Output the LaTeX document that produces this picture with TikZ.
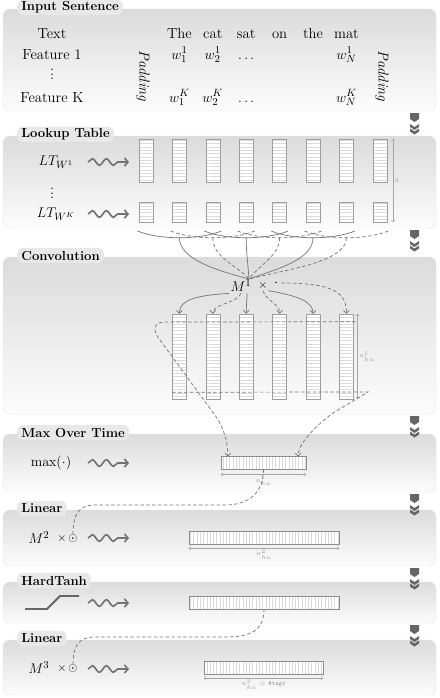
\documentclass[tikz,border=0pt]{standalone}
\usetikzlibrary{arrows.meta,decorations.pathmorphing,patterns.meta,calc}
\begin{document}
\begin{tikzpicture}[x=0.03cm, y=-0.03cm,
        font=\fontsize{12.5}{15}\selectfont, inner sep=1pt,
        >={Straight Barb[length=2.5pt,width=5pt]},
        panel/.style={draw=black!10, rounded corners=6pt,
            top color=black!14, bottom color=black!1},
        tab/.style={anchor=west, fill=black!9, rounded corners=5pt,
            font=\fontsize{11.2}{13}\selectfont\bfseries,
            inner xsep=3.5pt, inner ysep=0pt, minimum height=0.46cm},
        squig/.style={-{Straight Barb[length=3pt,width=7pt]}, black!55,
            line width=1.4pt, decorate,
            decoration={snake, amplitude=1mm, segment length=4.2mm,
                post length=1.6mm}},
        hcol/.style={draw=black!38, preaction={fill=white},
            pattern={Lines[angle=0,distance=2.8pt,line width=0.25pt]},
            pattern color=black!15, minimum width=0.42cm, inner sep=0pt},
        vbox/.style={draw=black!45, preaction={fill=white},
            pattern={Lines[angle=90,distance=2.8pt,line width=0.25pt]},
            pattern color=black!15, minimum height=0.38cm, inner sep=0pt},
        smallop/.style={inner sep=0.5pt, font=\fontsize{10}{12}\selectfont},
        wire/.style={black!55, semithick},
        dwire/.style={wire, densely dashed},
        dim/.style={<->, black!35, thin, >={Straight Barb[length=1.5pt,width=3pt]}},
        dimlab/.style={black!40, font=\fontsize{5.5}{6}\selectfont, inner sep=1pt}
    ]
    \useasboundingbox (0,0) rectangle (439,698);

    \foreach \ya/\yb/\ttl [count=\k] in {
        9/111/Input Sentence,
        136/228/Lookup Table,
        257/414/Convolution,
        434/492/Max Over Time,
        510/566/Linear,
        582/623/HardTanh,
        640/695/Linear
    } {
        \draw[panel] (3,\ya) rectangle (436,\yb);
        \node[tab] (tab\k) at (17,\ya-1.5) {\ttl};
    }

    \foreach \y in {111,228,414,492,566,623} {
        \fill[black!60] (410,\y+2) -- (419,\y+2) -- (419,\y+8)
            -- (414.5,\y+11) -- (410,\y+8) -- cycle;
        \fill[black!60] (410,\y+13) -- (414.5,\y+16) -- (419,\y+13)
            -- (419,\y+16) -- (414.5,\y+19) -- (410,\y+16) -- cycle;
        \fill[black!60] (410,\y+17.5) -- (414.5,\y+20.5) -- (419,\y+17.5)
            -- (419,\y+20.5) -- (414.5,\y+23.5) -- (410,\y+20.5) -- cycle;
    }

    \foreach \y in {162,214,463,538,603,669}
        \draw[squig] (88,\y) -- (129,\y);

    \node[anchor=base] (txt) at (52,38) {Text};
    \node[anchor=base] (feat1) at (52,59) {Feature 1};
    \node (fdots) at (52,71) {$\vdots$};
    \node[anchor=base] (featK) at (52,102) {Feature K};
    \node[rotate=-90] (padL) at (143,76) {\textit{Padding}};
    \node[rotate=-90] (padR) at (382,76) {\textit{Padding}};
    \foreach \w [count=\i from 2] in {The,cat,sat,on,the,mat}
        \node[anchor=base] (word\i) at ({146+33.4*(\i-1)},38) {\w};
    \foreach \i/\a/\b in {2/w_1^1/w_1^K, 3/w_2^1/w_2^K, 4/\dots/\dots, 7/w_N^1/w_N^K} {
        \node[anchor=base] (wa\i) at ({146+33.4*(\i-1)},59) {$\a$};
        \node[anchor=base] (wb\i) at ({146+33.4*(\i-1)},102) {$\b$};
    }

    \node (lt1) at (56,162) {$LT_{W^1}$};
    \node (ltdots) at (52,190) {$\vdots$};
    \node (ltK) at (56,214) {$LT_{W^K}$};
    \foreach \i in {1,...,8} {
        \node[hcol, minimum height=1.29cm] (top\i) at ({146+33.4*(\i-1)},160.5) {};
        \node[hcol, minimum height=0.6cm] (bot\i) at ({146+33.4*(\i-1)},212) {};
    }
    \draw[dim] ($(top8.north east)+(6,0)$) -- node[right, dimlab] (dlab) {d}
        ($(bot8.south east)+(6,0)$);

    \foreach \i in {2,...,7}
        \coordinate (arc\i) at ({146+33.4*(\i-1)},237.75);
    \foreach \i in {2,4,6}
        \draw[wire] ({146+33.4*(\i-1)-42},231) .. controls +(22,9) and +(-22,9)
            .. ({146+33.4*(\i-1)+42},231);
    \foreach \i in {3,5,7}
        \draw[dwire] ({146+33.4*(\i-1)-42},231) .. controls +(22,9) and +(-22,9)
            .. ({146+33.4*(\i-1)+42},231);

    \node (m1) at (241,286) {$M^1$};
    \node[smallop] (tm1) at (263,286) {$\times$};
    \node (dt1) at (276,283) {$\cdot$};
    \coordinate (hub) at (249,279);
    \draw[wire] (arc2) .. controls +(0,22) and +(-30,-8) .. (hub);
    \draw[dwire] (arc3) .. controls +(0,20) and +(-12,-14) .. (hub);
    \draw[wire] (arc4) .. controls +(0,15) and +(-1,-15) .. (hub);
    \draw[dwire] (arc5) .. controls +(0,18) and +(10,-14) .. (hub);
    \draw[wire] (arc6) .. controls +(0,22) and +(28,-10) .. (hub);
    \draw[dwire] (arc7) .. controls +(0,24) and +(40,-10) .. (hub);

    \foreach \i in {2,...,7}
        \node[hcol, minimum height=2.55cm] (c\i) at ({146+33.4*(\i-1)},356.5) {};
    \draw[wire, ->] (m1.south west) .. controls +(-30,2) and +(0,-15) .. (c2.north);
    \draw[dwire, ->] (m1.south) .. controls +(-4,10) and +(0,-10) .. (c3.north);
    \draw[wire, ->] ($(m1.south)+(6,0)$) .. controls +(0,8) and +(0,-8) .. (c4.north);
    \draw[dwire, ->] (tm1.south) .. controls +(3,10) and +(0,-10) .. (c5.north);
    \draw[wire, ->] (tm1.south east) .. controls +(30,5) and +(0,-12) .. (c6.north);
    \draw[dwire, ->] ($(dt1.east)+(2,0)$) .. controls +(55,0) and +(0,-20) .. (c7.north);
    \draw[dim] ($(c7.north east)+(4,0)$) -- node[right, dimlab] (nlab1) {$n_{hu}^1$}
        ($(c7.south east)+(4,0)$);

    \node (maxop) at (51,463) {$\max(\cdot)$};
    \node[vbox, minimum width=2.55cm] (maxbox) at (263.5,463) {};
    \coordinate (rowtop) at ($(c7.north east)+(2,8)$);
    \coordinate (rowbot) at ($(c2.south west)+(0,-7)$);
    \draw[dwire, ->] (rowtop) -- (165,322) .. controls (152,322) and (153,332) .. (160,340)
        -- (217,418) .. controls (223,428) and ($(maxbox.north west)+(7,-16)$)
        .. ($(maxbox.north west)+(7,0)$);
    \draw[dwire, ->] (rowbot) -- (368,392) -- (333,413)
        .. controls (318,424) and ($(maxbox.north east)+(-8,-14)$)
        .. ($(maxbox.north east)+(-8,0)$);
    \draw[dim] ($(maxbox.south west)+(0,5)$) -- node[below, dimlab] (nlab2) {$n_{hu}^1$}
        ($(maxbox.south east)+(0,5)$);

    \node (m2) at (39,538) {$M^2$};
    \node[smallop] (tm2) at (62,539) {$\times$};
    \node[smallop] (od2) at (73,539) {$\odot$};
    \node[vbox, minimum width=4.5cm] (lin2) at (264,537.5) {};
    \draw[dim] ($(lin2.south west)+(0,4)$) -- node[below, dimlab] (nlab3) {$n_{hu}^2$}
        ($(lin2.south east)+(0,4)$);
    \draw[dwire] (maxbox.south) .. controls +(0,22) and +(25,0) .. (225,505)
        -- (95,505) .. controls (78,505) and (73,515) .. (od2.north);

    \draw[black!60, line width=1.6pt] (25,609) -- (47,609) -- (60,596) -- (79,596);
    \node[vbox, minimum width=4.5cm] (htbox) at (264,602.5) {};

    \node (m3) at (39,668) {$M^3$};
    \node[smallop] (tm3) at (62,669) {$\times$};
    \node[smallop] (od3) at (73,669) {$\odot$};
    \node[vbox, minimum width=3.57cm] (lin3) at (263.5,667.5) {};
    \draw[dim] ($(lin3.south west)+(0,4)$) -- node[below, dimlab] (nlab4)
        {$n_{hu}^3$ = \texttt{\#tags}} ($(lin3.south east)+(0,4)$);
    \draw[dwire] (htbox.south) .. controls +(0,22) and +(25,0) .. (225,637)
        -- (95,637) .. controls (78,637) and (73,647) .. (od3.north);
\end{tikzpicture}
\end{document}
